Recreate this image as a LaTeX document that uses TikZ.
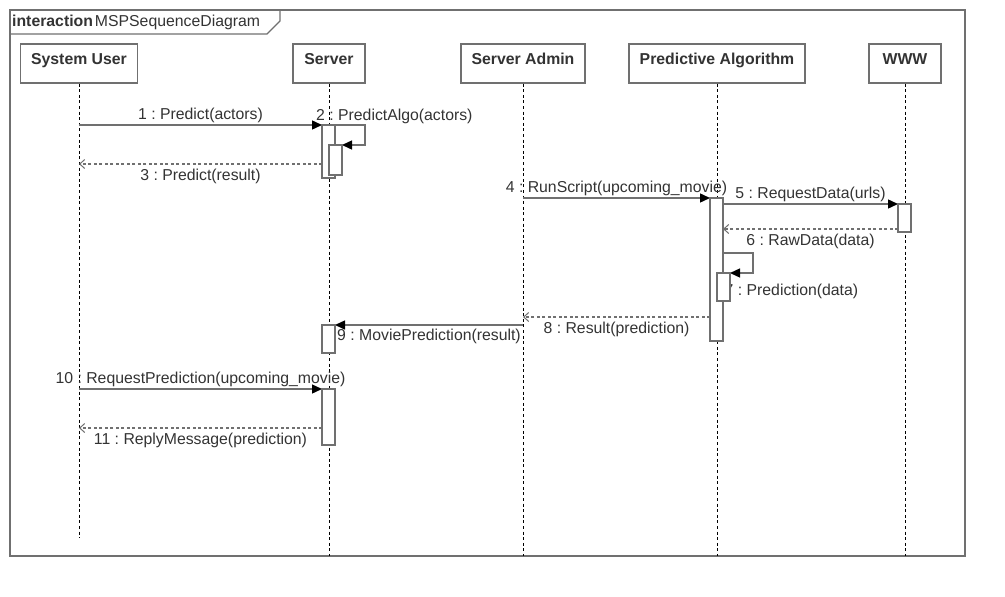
\documentclass[tikz,border=0pt]{standalone}
\usepackage{fontspec}
\setmainfont{Liberation Sans}
\usetikzlibrary{arrows.meta}
\definecolor{linec}{HTML}{707070}
\definecolor{txtc}{HTML}{333333}
\pgfdeclarelayer{fg}
\pgfsetlayers{main,fg}
\frenchspacing
\begin{document}
\begin{tikzpicture}[x=1pt, y=-1pt,
    every node/.style={font=\fontsize{15.8}{19}\selectfont, text=txtc},
    head/.style={draw=linec, line width=1.3pt, fill=white, inner xsep=0pt,
      inner ysep=8.7pt, text height=11.3pt, text depth=10.3pt, font=\fontsize{15.8}{19}\selectfont\bfseries},
    life/.style={black, line width=0.9pt, dash pattern=on 3pt off 2.6pt},
    act/.style={draw=linec, line width=1.3pt, fill=white, inner sep=0pt, outer sep=0pt,
      minimum width=13pt, anchor=north},
    msg/.style={draw=linec, line width=1.4pt, -{Triangle[length=10pt,width=9pt,black]}},
    ret/.style={draw=linec, line width=1.2pt, dash pattern=on 3pt off 2.5pt,
      -{Straight Barb[length=5pt,width=9pt,line width=1pt]}},
    lab/.style={inner sep=1.7pt}]
    \useasboundingbox (0, 0) rectangle (1005, 597);
    % frame
    \draw [draw=linec, line width=2pt] (10, 10) rectangle (965, 556);
    \draw [draw=linec, line width=1.2pt] (10, 10) -| (280, 21) -- (267, 34) -- (10, 34);
    \node [anchor=base west, inner sep=0pt] (title) at (12, 27) {\textbf{interaction}\kern2pt MSPSequenceDiagram};
    % lifelines
    \node [head, minimum width=117pt] (su) at (79, 63.5) {System User};
    \node [head, minimum width=72pt] (sv) at (329, 63.5) {Server};
    \node [head, minimum width=124pt] (sa) at (523, 63.5) {Server Admin};
    \node [head, minimum width=176pt] (pa) at (717, 63.5) {Predictive Algorithm};
    \node [head, minimum width=72pt] (ww) at (905, 63.5) {WWW};
    \coordinate (subot) at (79, 538);
    \coordinate (bot) at (0, 556);
    \draw [life] (su.south) -- (subot);
    \draw [life] (sv.south) -- (sv |- bot);
    \draw [life] (sa.south) -- (sa |- bot);
    \draw [life] (pa.south) -- (pa |- bot);
    \draw [life] (ww.south) -- (ww |- bot);
    % activations
    \begin{pgfonlayer}{fg}
    \node [act, minimum height=53pt] (a1) at (328.5, 125) {};
    \node [act, minimum height=30pt] (a2) at (335.5, 145) {};
    \node [act, minimum height=28pt] (a3) at (328.5, 325) {};
    \node [act, minimum height=56pt] (a4) at (328.5, 389) {};
    \node [act, minimum height=143pt] (a5) at (716.5, 198) {};
    \node [act, minimum height=28pt] (a6) at (723.5, 273) {};
    \node [act, minimum height=28pt] (a7) at (904.5, 204) {};
    \end{pgfonlayer}
    % messages
    \coordinate (m1) at (79, 125);
    \coordinate (m3) at (79, 164);
    \coordinate (m4) at (523, 198);
    \coordinate (m6) at (905, 229);
    \coordinate (m7) at (717, 253);
    \coordinate (m8) at (523, 317);
    \coordinate (m9) at (523, 325);
    \coordinate (m10) at (79, 389);
    \coordinate (m11) at (79, 428);
    \draw [msg] (m1) to node [lab, above] {1 : Predict(actors)} (a1.north west);
    \draw [msg] (a1.north east) -- ++(30, 0) |- (a2.north east);
    \node [anchor=base west, inner sep=0pt] (l2) at (316, 120) {2 : PredictAlgo(actors)};
    \draw [ret] (a1.west |- m3) to node [lab, below=2.5pt] {3 : Predict(result)} (m3);
    \draw [msg] (m4) to node [lab, above] {4 : RunScript(upcoming\_movie)} (a5.north west);
    \draw [msg] (a5.east |- a7.north) to node [lab, above] {5 : RequestData(urls)} (a7.north west);
    \draw [ret] (a7.west |- m6) to node [lab, below=2.5pt] {6 : RawData(data)} (a5.east |- m6);
    \draw [msg] (a5.east |- m7) -- ++(30, 0) |- (a6.north east);
    \node [anchor=base west, inner sep=0pt] (l7) at (724.5, 295) {7 : Prediction(data)};
    \draw [ret] (a5.west |- m8) to node [lab, below=2.5pt] {8 : Result(prediction)} (m8);
    \draw [msg] (m9) to node [lab, below=2pt] {9 : MoviePrediction(result)} (a3.north east);
    \draw [msg] (m10) to node [lab, above] {10 : RequestPrediction(upcoming\_movie)} (a4.north west);
    \draw [ret] (a4.west |- m11) to node [lab, below=2.5pt] {11 : ReplyMessage(prediction)} (m11);
  \end{tikzpicture}
\end{document}
